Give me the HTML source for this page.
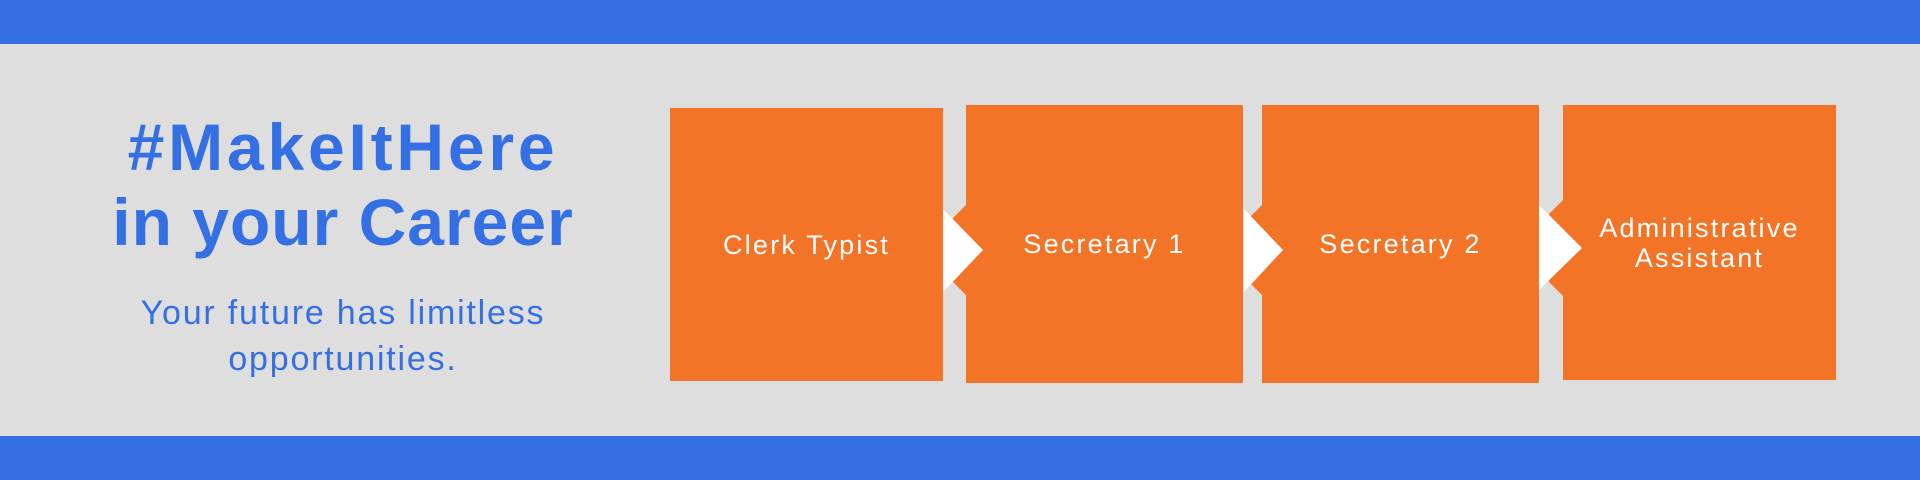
<!DOCTYPE html>
<html><head><meta charset="utf-8"><style>
*{margin:0;padding:0}
body{width:1920px;height:480px;background:#DEDEDE;position:relative;overflow:hidden;font-family:"Liberation Sans",sans-serif}
.bar{position:absolute;left:0;width:1920px;height:44px;background:#3470E4}
.t{position:absolute;left:43px;width:600px;text-align:center;color:#3470E4;white-space:nowrap}
.h{font-weight:bold;font-size:66px;line-height:66px}
.s{font-size:34px;line-height:34px;letter-spacing:1.8px}
.box{position:absolute;background:#F37327;color:#fff;font-size:27px;display:flex;align-items:center;justify-content:center;text-align:center;line-height:30px;letter-spacing:2.2px}
svg{position:absolute;left:0;top:0}
</style></head><body>
<div class="bar" style="top:0"></div>
<div class="bar" style="top:436px"></div>
<div class="t h" style="top:114px;letter-spacing:3.8px">#MakeItHere</div>
<div class="t h" style="top:189px;letter-spacing:1px">in your Career</div>
<div class="t s" style="top:296px">Your future has limitless</div>
<div class="t s" style="top:342px">opportunities.</div>
<div class="box" style="left:670px;top:108px;width:273px;height:273px">Clerk Typist</div>
<div class="box" style="left:966px;top:105px;width:277px;height:278px">Secretary 1</div>
<div class="box" style="left:1262px;top:105px;width:277px;height:278px">Secretary 2</div>
<div class="box" style="left:1563px;top:105px;width:273px;height:275px">Administrative<br>Assistant</div>
<svg width="1920" height="480">
<polygon points="966,205 952,219 952,281 966,295" fill="#F37327"/>
<polygon points="943,209 983,250 943,292" fill="#fff"/>
<polygon points="1262,205 1248,219 1248,281 1262,295" fill="#F37327"/>
<polygon points="1244,209 1283,250 1244,292" fill="#fff"/>
<polygon points="1563,200 1549,214 1549,282 1563,296" fill="#F37327"/>
<polygon points="1539,205 1582,248 1539,290" fill="#fff"/>
</svg>
</body></html>
